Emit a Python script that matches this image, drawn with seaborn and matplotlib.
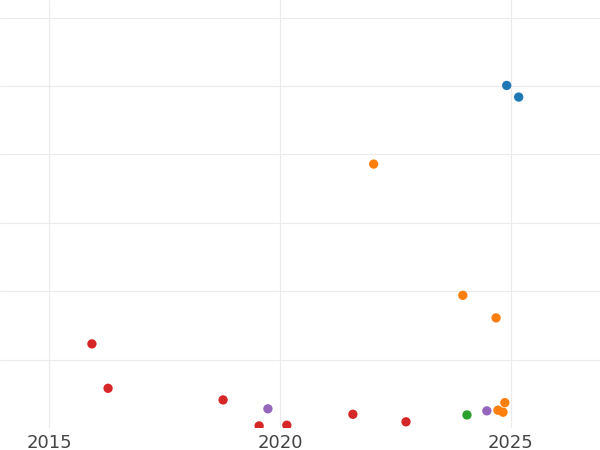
import matplotlib
matplotlib.use("Agg")
import matplotlib.pyplot as plt
import seaborn as sns
import pandas as pd

sns.set_theme(style="whitegrid")

years = [2024.91, 2025.17,
         2022.03, 2023.96, 2024.68, 2024.72, 2024.87, 2024.83,
         2015.93, 2016.28, 2018.77, 2019.55, 2020.15, 2021.58, 2022.73,
         2019.74, 2024.48,
         2024.05]
values = [5.01, 4.84,
          3.86, 1.94, 1.61, 0.26, 0.37, 0.23,
          1.23, 0.58, 0.41, 0.03, 0.04, 0.20, 0.09,
          0.28, 0.25,
          0.19]
groups = ["a"] * 2 + ["b"] * 6 + ["c"] * 7 + ["d"] * 2 + ["e"]
palette = {"a": "#1f77b4", "b": "#ff7f0e", "c": "#d62728", "d": "#9467bd", "e": "#2ca02c"}

df = pd.DataFrame({"year": years, "value": values, "group": groups})

fig = plt.figure(figsize=(6, 4.5), dpi=100)
ax = fig.add_axes([0, 0.049, 1, 0.951])
sns.scatterplot(data=df, x="year", y="value", hue="group", palette=palette,
                s=45, edgecolor="none", legend=False, ax=ax, clip_on=True)
ax.set_xlim(2013.94, 2026.93)
ax.set_ylim(0, 6.26)
ax.set_xticks([2015, 2020, 2025])
ax.set_xticklabels(["2015", "2020", "2025"], fontsize=13, color="#444444")
ax.set_yticks([1, 2, 3, 4, 5, 6])
ax.set_yticklabels([])
ax.tick_params(axis="y", length=0)
ax.tick_params(axis="x", length=0, pad=4)
ax.grid(color="#ebebeb", linewidth=0.8)
ax.set_xlabel("")
ax.set_ylabel("")
for s in ax.spines.values():
    s.set_visible(False)
fig.savefig("out.png", dpi=100)
